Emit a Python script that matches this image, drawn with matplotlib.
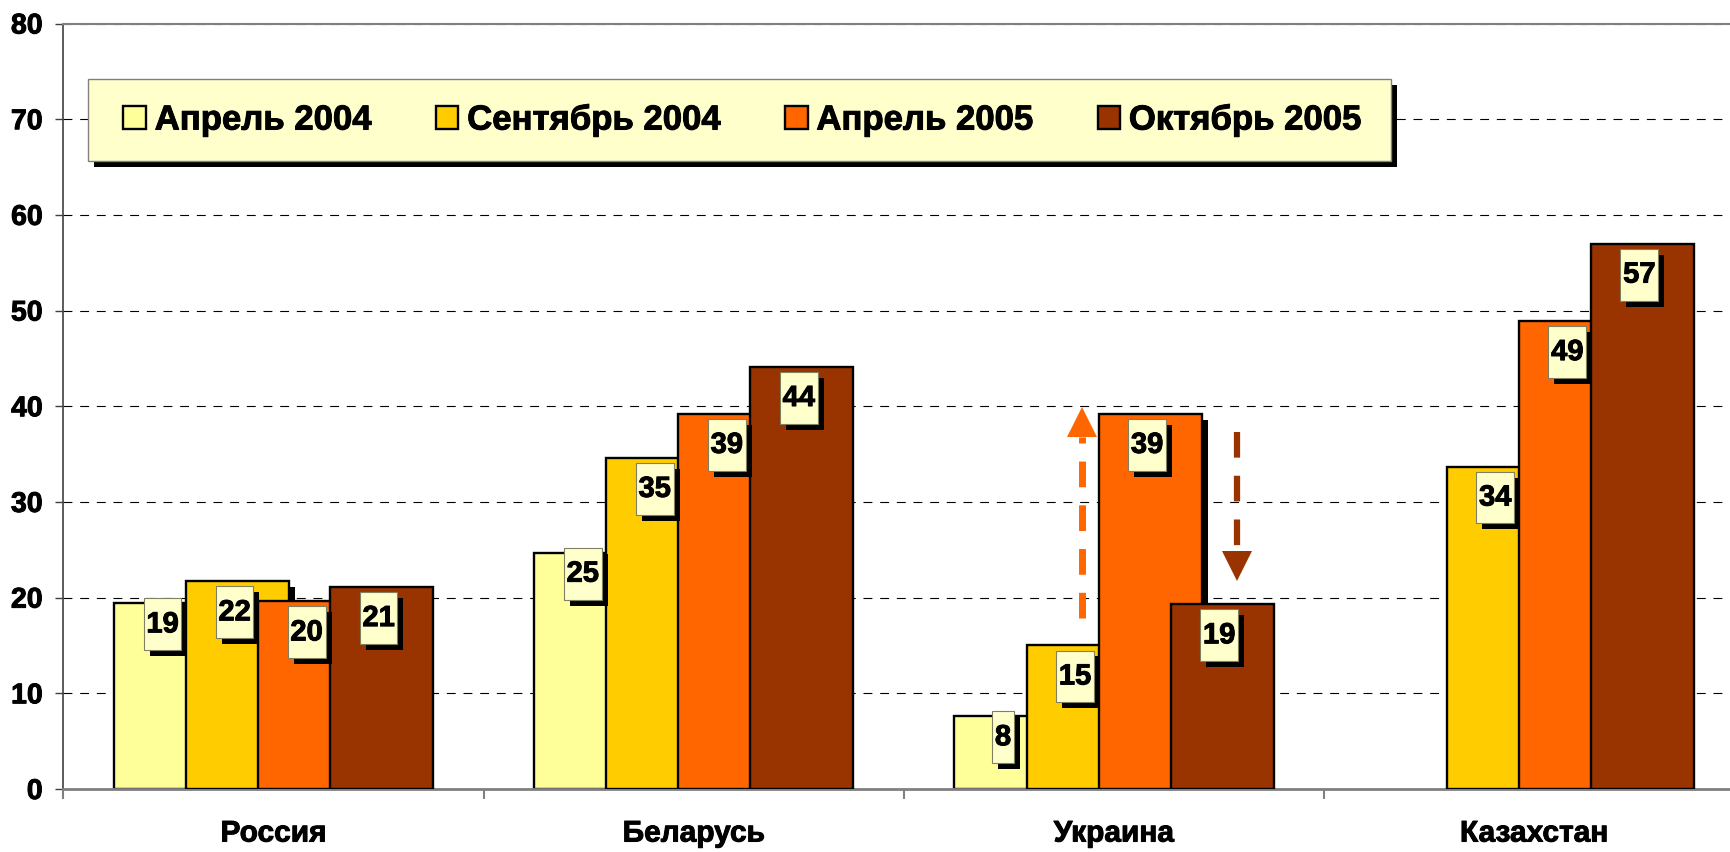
import numpy as np
import matplotlib
matplotlib.use("Agg")
import matplotlib.pyplot as plt
from matplotlib import transforms
from matplotlib import patheffects
from matplotlib.path import Path
from matplotlib.patches import Rectangle

plt.rcParams['font.family'] = ['Liberation Sans', 'DejaVu Sans']
plt.rcParams['font.weight'] = 'bold'

countries = ["Россия", "Беларусь", "Украина", "Казахстан"]
series_names = ["Апрель 2004", "Сентябрь 2004", "Апрель 2005", "Октябрь 2005"]
apr_2004 = [19.4, 24.7, 7.6, np.nan]
sep_2004 = [21.7, 34.6, 15.0, 33.7]
apr_2005 = [19.6, 39.2, 39.2, 48.9]
oct_2005 = [21.1, 44.1, 19.3, 57.0]
colors = ["#FFFF99", "#FFCC00", "#FF6600", "#993300"]

values = [apr_2004, sep_2004, apr_2005, oct_2005]

W, H = 1731, 852
fig = plt.figure(figsize=(W / 100, H / 100), dpi=100)
ax = fig.add_axes([63.4 / W, 63 / H, 1681 / W, 765.5 / H])
px = 1 / 100  # inch per pixel

# a thin stroke makes the bold text look like the heavier excel rendering
heavy = [patheffects.withStroke(linewidth=0.7, foreground='black')]
box_shadow = [patheffects.SimplePatchShadow(offset=(4.3, -4.3), shadow_rgbFace='black', alpha=1),
              patheffects.Normal()]


# tall label box like the excel data labels
def label_box(x0, y0, width, height, mutation_size):
    padx = 0.096 * mutation_size
    h = 1.78 * mutation_size
    cy = y0 + height / 2
    xa, xb = x0 - padx, x0 + width + padx
    ya, yb = cy - h / 2, cy + h / 2
    return Path([(xa, ya), (xb, ya), (xb, yb), (xa, yb), (xa, ya)], closed=True)


x = np.arange(len(countries)) + 0.5
step = 0.1714
width = 0.245
shadow_off = transforms.ScaledTranslation(6 * px, -6 * px, fig.dpi_scale_trans)

for i, (vals, name, col) in enumerate(zip(values, series_names, colors)):
    pos = x + (i - 1.5) * step
    if i < 3:
        ax.bar(pos, vals, width, color='black', zorder=1.5 + 2 * i,
               transform=ax.transData + shadow_off, label='_nolegend_')
    ax.bar(pos, vals, width, color=col, edgecolor='black', linewidth=1.7,
           label=name, zorder=2 + 2 * i)
    dy = -21 if i == 0 else -31
    for xp, v in zip(pos, vals):
        if np.isnan(v):
            continue
        t = ax.annotate(f"{v:.0f}", xy=(xp, v), xytext=(-3, dy), textcoords='offset pixels',
                        ha='center', va='center', fontsize=21, fontweight='bold', zorder=12,
                        bbox=dict(boxstyle=label_box, fc='#FFFFCC', ec='#808060', lw=0.8))
        t.set_path_effects(heavy)
        t.get_bbox_patch().set_path_effects(box_shadow)

# arrows for Ukraine
u = 2
up_x = x[u] - 0.5 * step + 0.01
ax.plot([up_x, up_x], [sep_2004[u] + 2.9, apr_2005[u] - 2.4], color='#FF6600', lw=5,
        linestyle=(0, (3.7, 2.6)), dash_capstyle='butt', zorder=13)
ax.plot(up_x, apr_2005[u] - 0.8, marker='^', ms=21.6, mew=0, color='#FF6600', zorder=13)
dn_x = x[u] + 1.5 * step + 0.036
ax.plot([dn_x, dn_x], [apr_2005[u] - 1.9, oct_2005[u] + 5.8], color='#993300', lw=4.5,
        linestyle=(0, (4.1, 2.9)), dash_capstyle='butt', zorder=13)
ax.plot(dn_x, oct_2005[u] + 4.0, marker='v', ms=21.6, mew=0, color='#993300', zorder=13)

ax.set_xlim(0, 4)
ax.set_ylim(0, 80)
ax.set_yticks(range(0, 81, 10))
ax.set_xticks(x)
ax.set_xticklabels(countries, fontsize=21.5, fontweight='bold')
ax.set_xticks(range(5), minor=True)
ax.tick_params(axis='x', which='major', length=0, pad=22)
ax.tick_params(axis='x', which='minor', length=7, width=1.5, color='#808080', direction='out')
ax.tick_params(axis='y', length=6, width=1, color='#404040', pad=9, labelsize=20.5)
for lab in ax.get_xticklabels() + ax.get_yticklabels():
    lab.set_path_effects(heavy)
ax.set_axisbelow(True)
ax.yaxis.grid(True, color='black', lw=0.8, linestyle=(0, (8, 7)))

ax.spines['top'].set_color('#808080')
ax.spines['top'].set_linewidth(1.5)
ax.spines['bottom'].set_color('#808080')
ax.spines['bottom'].set_linewidth(2)
ax.spines['left'].set_color('#404040')
ax.spines['left'].set_linewidth(1.2)
ax.spines['right'].set_visible(False)

leg = ax.legend(loc='center left', bbox_to_anchor=(0.0254, 0.874), ncol=4, frameon=False,
                borderpad=0, prop=dict(size=25, weight='bold'), handlelength=0.65,
                handleheight=0.65, handletextpad=0.25, columnspacing=1.86)
leg.set_zorder(20)
for t in leg.get_texts():
    t.set_path_effects(heavy)

# legend frame with black shadow, sized around the legend content
fig.canvas.draw()
bb = leg.get_window_extent()
cy = (bb.y0 + bb.y1) / 2
fx0, fw, fh = bb.x0 - 35, bb.width + 65, 82
ax.add_artist(Rectangle((fx0 + 6, cy - fh / 2 - 6), fw, fh, fc='black', ec='none',
                        transform=transforms.IdentityTransform(), zorder=18, clip_on=False))
ax.add_artist(Rectangle((fx0, cy - fh / 2), fw, fh, fc='#FFFFCC', ec='#808080', lw=1,
                        transform=transforms.IdentityTransform(), zorder=19, clip_on=False))

plt.savefig("out.png", dpi=100, facecolor='white')
plt.close()
